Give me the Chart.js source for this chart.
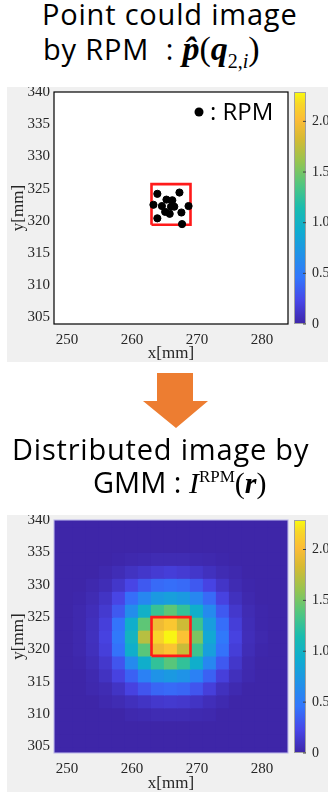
<!DOCTYPE html>
<html>
<head>
<meta charset="utf-8">
<script src="https://cdn.jsdelivr.net/npm/chart.js@4.4.0/dist/chart.umd.min.js"></script>
<style>
  body { margin: 0; width: 328px; height: 795px; background: #fff; position: relative; overflow: hidden; }
  .title { position: absolute; color: #000; font-family: "Open Sans", "Noto Sans", sans-serif; font-size: 29px; letter-spacing: 0.8px; line-height: 1; white-space: nowrap; }
  .math { font-family: "Liberation Serif", "DejaVu Serif", serif; font-size: 34px; letter-spacing: 0; }
  .math sub, .math sup { font-size: 20px; }
  #t4 { letter-spacing: 0; }
  #t4 .math { font-size: 30px; }
  #t4 .math sup { font-size: 17px; }
  .panel { position: absolute; background: #f0f0f0; }
  svg { position: absolute; left: 0; top: 0; }
</style>
</head>
<body>
<div class="title" style="left:42px;top:-1px">Point could image</div>
<div class="title" style="left:43px;top:32px">by RPM&nbsp; : <span class="math"><b><i>p&#770;</i></b>(<b><i>q</i></b><sub>2,<i>i</i></sub>)</span></div>
<canvas id="firstCanvas" class="panel" width="321" height="275" style="left:7px;top:87px"></canvas>

<svg width="328" height="440">
  <polygon points="157,373 193,373 193,401 208,401 176,428 143,401 157,401" fill="#ed7d31"/>
</svg>

<div class="title" style="left:12px;top:434px">Distributed image by</div>
<div class="title" id="t4" style="left:93px;top:467px">GMM : <span class="math"><i>I</i><sup>RPM</sup>(<b><i>r</i></b>)</span></div>
<canvas id="secondCanvas" class="panel" width="321" height="277" style="left:7px;top:515px"></canvas>

<script>
// axis ranges and ticks (mm)
const xRange = [248, 284];
const yRange = [304, 340];
const xTicks = [250, 260, 270, 280];
const yTicks = [305, 310, 315, 320, 325, 330, 335, 340];
const cbTicks = [0, 0.5, 1, 1.5, 2];
const cbMax = 2.29;

// RPM point cloud
const rpmX = [263.9, 267.3, 265.3, 266.2, 263.3, 264.6, 266.0, 266.5, 268.7, 265.1, 265.8, 267.6, 263.9, 267.7];
const rpmY = [324.2, 324.4, 323.3, 323.2, 322.5, 322.3, 322.2, 322.2, 322.3, 321.4, 321.1, 321.3, 320.4, 319.5];

// red window
const box1X = [263, 269, 269, 263, 263];
const box1Y = [319.4, 319.4, 325.7, 325.7, 319.4];
const box2X = [263, 269, 269, 263, 263];
const box2Y = [319, 319, 325, 325, 319];

// GMM image, 2 mm cells (centres)
const gridX = [248, 250, 252, 254, 256, 258, 260, 262, 264, 266, 268, 270, 272, 274, 276, 278, 280, 282, 284];
const gridY = [340, 338, 336, 334, 332, 330, 328, 326, 324, 322, 320, 318, 316, 314, 312, 310, 308, 306, 304];
const gmm = [
  [0, 0, 0, 0, 0, 0, 0, 0, 0, 0, 0, 0, 0, 0, 0, 0, 0, 0, 0],
  [0, 0, 0, 0, 0, 0, 0, 0, 0, 0, 0, 0, 0, 0, 0, 0, 0, 0, 0],
  [0, 0, 0, 0, 0, 0, 0, 0, 0, 0, 0, 0, 0, 0, 0, 0, 0, 0, 0],
  [0, 0, 0, 0, 0, 0.01, 0.02, 0.03, 0.04, 0.04, 0.04, 0.03, 0.02, 0.01, 0, 0, 0, 0, 0],
  [0, 0, 0, 0, 0.02, 0.05, 0.09, 0.12, 0.15, 0.17, 0.15, 0.12, 0.08, 0.04, 0.02, 0, 0, 0, 0],
  [0, 0, 0, 0.02, 0.05, 0.12, 0.22, 0.32, 0.40, 0.42, 0.40, 0.32, 0.21, 0.11, 0.04, 0.01, 0, 0, 0],
  [0, 0, 0.01, 0.04, 0.10, 0.22, 0.42, 0.60, 0.75, 0.80, 0.75, 0.60, 0.40, 0.20, 0.08, 0.02, 0, 0, 0],
  [0, 0, 0.02, 0.06, 0.14, 0.32, 0.65, 0.98, 1.28, 1.42, 1.26, 0.95, 0.62, 0.32, 0.13, 0.04, 0.01, 0, 0],
  [0, 0, 0.02, 0.07, 0.18, 0.45, 0.95, 1.42, 1.95, 2.08, 1.80, 1.30, 0.78, 0.42, 0.17, 0.05, 0.01, 0, 0],
  [0, 0, 0.02, 0.08, 0.20, 0.48, 1.02, 1.72, 2.15, 2.27, 2.05, 1.52, 0.88, 0.48, 0.20, 0.06, 0.02, 0, 0],
  [0, 0, 0.02, 0.07, 0.18, 0.44, 0.95, 1.40, 1.95, 2.06, 1.78, 1.30, 0.80, 0.44, 0.17, 0.05, 0.01, 0, 0],
  [0, 0, 0.01, 0.05, 0.13, 0.30, 0.62, 0.95, 1.25, 1.40, 1.25, 0.95, 0.60, 0.32, 0.12, 0.03, 0, 0, 0],
  [0, 0, 0, 0.03, 0.09, 0.20, 0.36, 0.55, 0.70, 0.75, 0.70, 0.55, 0.36, 0.18, 0.07, 0.02, 0, 0, 0],
  [0, 0, 0, 0.02, 0.04, 0.10, 0.20, 0.30, 0.38, 0.40, 0.38, 0.30, 0.18, 0.08, 0.03, 0, 0, 0, 0],
  [0, 0, 0, 0, 0.02, 0.04, 0.07, 0.10, 0.13, 0.14, 0.13, 0.10, 0.06, 0.03, 0, 0, 0, 0, 0],
  [0, 0, 0, 0, 0, 0, 0.02, 0.03, 0.04, 0.04, 0.04, 0.03, 0.02, 0, 0, 0, 0, 0, 0],
  [0, 0, 0, 0, 0, 0, 0, 0, 0, 0, 0, 0, 0, 0, 0, 0, 0, 0, 0],
  [0, 0, 0, 0, 0, 0, 0, 0, 0, 0, 0, 0, 0, 0, 0, 0, 0, 0, 0],
  [0, 0, 0, 0, 0, 0, 0, 0, 0, 0, 0, 0, 0, 0, 0, 0, 0, 0, 0],
];

// parula-like colour map
const cmap = [
  [0.00, [62, 38, 168]],
  [0.10, [72, 70, 232]],
  [0.20, [50, 118, 252]],
  [0.30, [32, 146, 232]],
  [0.40, [15, 172, 208]],
  [0.50, [25, 188, 175]],
  [0.60, [80, 198, 128]],
  [0.70, [150, 196, 80]],
  [0.80, [215, 186, 50]],
  [0.88, [252, 188, 55]],
  [0.95, [248, 215, 40]],
  [1.00, [249, 251, 14]],
];

function parula(v) {
  const t = Math.max(0, Math.min(1, v / cbMax));
  for (let i = 1; i < cmap.length; i++) {
    if (t <= cmap[i][0]) {
      const [t0, c0] = cmap[i - 1];
      const [t1, c1] = cmap[i];
      const f = (t - t0) / (t1 - t0);
      const c = c0.map((a, k) => Math.round(a + (c1[k] - a) * f));
      return `rgb(${c.join(",")})`;
    }
  }
  return `rgb(${cmap[cmap.length - 1][1].join(",")})`;
}

const serif = "'Liberation Serif', 'Times New Roman', serif";
const tickColor = "#262626";
const tickFont = { family: serif, size: 15 };

// plot background + frame
const frame = {
  id: "frame",
  beforeDatasetsDraw(chart, args, opts) {
    if (!opts.fill) return;
    const { ctx, chartArea: a } = chart;
    ctx.save();
    ctx.fillStyle = opts.fill;
    ctx.fillRect(a.left, a.top, a.width, a.height);
    ctx.restore();
  },
  afterDatasetsDraw(chart, args, opts) {
    const { ctx, chartArea: a } = chart;
    ctx.save();
    ctx.strokeStyle = opts.color;
    ctx.lineWidth = 1.2;
    ctx.strokeRect(a.left, a.top, a.width, a.height);
    ctx.restore();
  },
};

// colour bar beside the plot, on the cb axis
const colorBar = {
  id: "colorBar",
  afterDraw(chart) {
    const { ctx, chartArea: a } = chart;
    const cb = chart.scales.cb;
    const x0 = a.right + 6, w = 12;
    const g = ctx.createLinearGradient(0, cb.getPixelForValue(0), 0, cb.getPixelForValue(cbMax));
    cmap.forEach(([t, c]) => g.addColorStop(t, `rgb(${c.join(",")})`));
    ctx.save();
    ctx.fillStyle = g;
    ctx.fillRect(x0, a.top, w, a.height);
    ctx.strokeStyle = "#a0a0a0";
    ctx.lineWidth = 1;
    ctx.strokeRect(x0 + 0.5, a.top + 0.5, w - 1, a.height - 1);
    ctx.strokeStyle = "#404040";
    cbTicks.forEach((v) => {
      const y = cb.getPixelForValue(v);
      ctx.beginPath();
      ctx.moveTo(x0 + w - 3, y);
      ctx.lineTo(x0 + w, y);
      ctx.stroke();
    });
    ctx.restore();
  },
};

// "● : RPM" key in the top right corner of the point plot
const rpmKey = {
  id: "rpmKey",
  afterDraw(chart) {
    const { ctx, chartArea: a } = chart;
    ctx.save();
    ctx.fillStyle = "#000";
    ctx.beginPath();
    ctx.arc(a.right - 89, a.top + 20, 4.5, 0, Math.PI * 2);
    ctx.fill();
    ctx.font = "24px 'Open Sans', sans-serif";
    ctx.textBaseline = "middle";
    ctx.fillText(": RPM", a.right - 78, a.top + 21);
    ctx.restore();
  },
};

// fixed axis boxes so the plot sits where it should; no label overhang padding
function fixBox(size) {
  return (s) => {
    if (s.isHorizontal()) s.height = size; else s.width = size;
    s.paddingTop = 0;
    s.paddingBottom = 0;
    s.paddingLeft = 0;
    s.paddingRight = 0;
  };
}

function makeScales(bottomH) {
  return {
    x: {
      type: "linear", min: xRange[0], max: xRange[1], offset: false,
      grid: { display: false, drawTicks: false }, border: { display: false },
      afterBuildTicks: (s) => { s.ticks = xTicks.map((v) => ({ value: v })); },
      afterFit: fixBox(bottomH),
      ticks: { font: tickFont, color: tickColor, padding: 7, maxRotation: 0 },
      title: { display: true, text: "x[mm]", color: tickColor, font: { family: serif, size: 17, lineHeight: 1 }, padding: { top: 0, bottom: 0 } },
    },
    y: {
      type: "linear", position: "left", min: yRange[0], max: yRange[1],
      grid: { display: false, drawTicks: false }, border: { display: false },
      afterBuildTicks: (s) => { s.ticks = yTicks.map((v) => ({ value: v })); },
      afterFit: fixBox(47),
      ticks: { font: tickFont, color: tickColor, padding: 4 },
      title: { display: true, text: "y[mm]", color: tickColor, font: { family: serif, size: 17, lineHeight: 1 }, padding: { top: 3, bottom: 0 } },
    },
    cb: {
      type: "linear", position: "right", min: 0, max: cbMax,
      grid: { display: false, drawTicks: false }, border: { display: false },
      afterBuildTicks: (s) => { s.ticks = cbTicks.map((v) => ({ value: v })); },
      afterFit: fixBox(40),
      ticks: { font: { family: serif, size: 14 }, color: tickColor, padding: 24 },
    },
  };
}

const firstCanvas = document.querySelector("#firstCanvas");
const secondCanvas = document.querySelector("#secondCanvas");

const myChart1 = new Chart(firstCanvas, {
  type: "scatter",
  data: {
    datasets: [
      {
        label: "RPM",
        data: rpmX.map((x, i) => ({ x, y: rpmY[i] })),
        backgroundColor: "#000",
        borderColor: "#000",
        pointRadius: 3.6,
        order: 0,
      },
      {
        label: "window",
        data: box1X.map((x, i) => ({ x, y: box1Y[i] })),
        showLine: true,
        borderColor: "#ff1a1a",
        borderWidth: 2.6,
        borderJoinStyle: "miter",
        pointRadius: 0,
        order: 1,
      },
    ],
  },
  options: {
    responsive: false,
    animation: false,
    events: [],
    layout: { padding: { top: 4, left: 0, right: 0, bottom: 0 } },
    plugins: { legend: { display: false }, tooltip: { enabled: false }, frame: { color: "#000", fill: "#fff" } },
    scales: makeScales(38),
  },
  plugins: [frame, colorBar, rpmKey],
});

const cellSets = gridY.map((yc, r) => ({
  type: "bar",
  label: "row " + yc,
  data: gridX.map((xc) => ({ x: xc, y: [yc - 1, yc + 1] })),
  backgroundColor: gmm[r].map(parula),
  borderWidth: 0,
  inflateAmount: 0.6,
  grouped: false,
  barPercentage: 1,
  categoryPercentage: 1,
  order: 1,
}));

const myChart2 = new Chart(secondCanvas, {
  type: "bar",
  data: {
    datasets: [
      {
        type: "line",
        label: "window",
        data: box2X.map((x, i) => ({ x, y: box2Y[i] })),
        borderColor: "#ff1a1a",
        borderWidth: 2.6,
        borderJoinStyle: "miter",
        pointRadius: 0,
        fill: false,
        order: 0,
      },
      ...cellSets,
    ],
  },
  options: {
    responsive: false,
    animation: false,
    events: [],
    layout: { padding: { top: 5, left: 0, right: 0, bottom: 0 } },
    plugins: { legend: { display: false }, tooltip: { enabled: false }, frame: { color: "rgba(190,185,235,0.9)" } },
    scales: makeScales(39),
  },
  plugins: [frame, colorBar],
});
</script>
</body>
</html>
